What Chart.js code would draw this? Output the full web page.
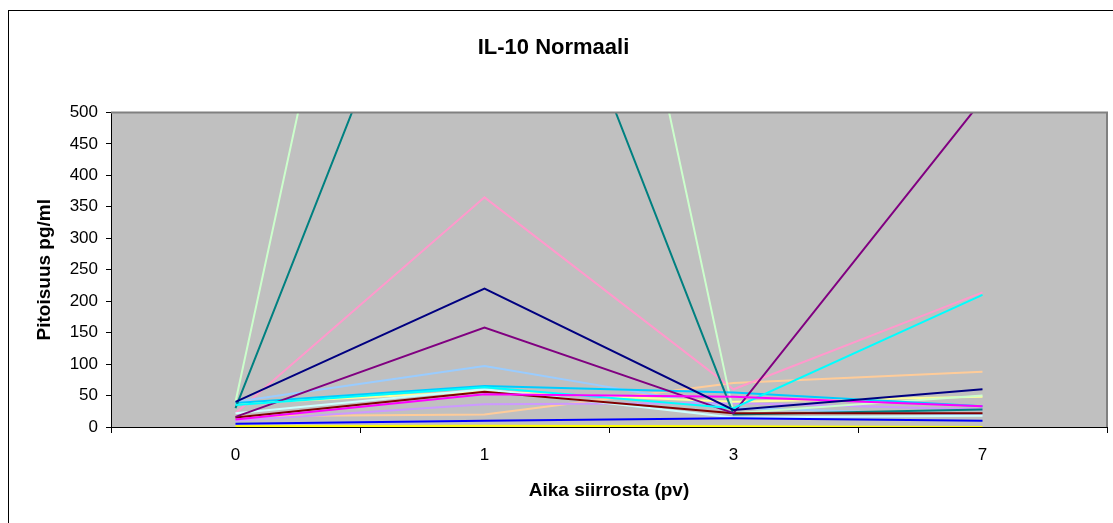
<!DOCTYPE html>
<html>
<head>
<meta charset="utf-8">
<script src="https://cdn.jsdelivr.net/npm/chart.js@4/dist/chart.umd.min.js"></script>
<style>
  html, body { margin: 0; padding: 0; background: #fff; }
  #wrap { width: 1113px; height: 523px; }
</style>
</head>
<body>
<div id="wrap"><canvas id="il10Chart" width="1113" height="523"></canvas></div>
<script>
// days after transplant
const days = ["0", "1", "3", "7"];

// IL-10 concentration per sample (pg/ml)
const s1 = [40, 220, 27, 60];
const s2 = [12, 52, 48, 33];
const s3 = [1, 2, 1, 0];
const s4 = [35, 63, 30, 210];
const s5 = [16, 158, 22, 520];
const s6 = [15, 56, 22, 22];
const s7 = [30, 1035, 20, 28];
const s8 = [5, 10, 14, 10];
const s9 = [38, 65, 55, 33];
const s10 = [22, 60, 15, 18];
const s11 = [40, 1870, 22, 50];
const s12 = [37, 57, 40, 48];
const s13 = [40, 97, 30, 19];
const s14 = [22, 365, 60, 214];
const s15 = [10, 36, 38, 28];
const s16 = [17, 20, 70, 88];

const yTicks = [0, 50, 100, 150, 200, 250, 300, 350, 400, 450, 500];

const seriesList = [s1, s2, s3, s4, s5, s6, s7, s8, s9, s10, s11, s12, s13, s14, s15, s16];
const lineColors = [
  "#000080", "#FF00FF", "#FFFF00", "#00FFFF",
  "#800080", "#800000", "#008080", "#0000FF",
  "#00CCFF", "#CCFFFF", "#CCFFCC", "#FFFF99",
  "#99CCFF", "#FF99CC", "#CC99FF", "#FFCC99",
];

const fontFamily = "Liberation Sans, Arial, sans-serif";

// grey plot area plus the outer frame
const plotBackground = {
  id: "plotBackground",
  beforeDraw(chart) {
    const { ctx, chartArea } = chart;
    ctx.save();
    ctx.fillStyle = "#fff";
    ctx.fillRect(0, 0, chart.width, chart.height);
    ctx.strokeStyle = "#000";
    ctx.lineWidth = 1;
    ctx.strokeRect(8.5, 10.5, 1300, 700);
    ctx.fillStyle = "#C0C0C0";
    ctx.fillRect(chartArea.left, chartArea.top, chartArea.right - chartArea.left, chartArea.bottom - chartArea.top);
    ctx.restore();
  },
  afterDatasetsDraw(chart) {
    const { ctx, chartArea } = chart;
    ctx.save();
    ctx.strokeStyle = "#808080";
    ctx.lineWidth = 2;
    ctx.beginPath();
    ctx.moveTo(chartArea.left, chartArea.top);
    ctx.lineTo(chartArea.right, chartArea.top);
    ctx.lineTo(chartArea.right, chartArea.bottom);
    ctx.stroke();
    ctx.restore();
  },
};

const ctx = document.getElementById("il10Chart").getContext("2d");

const il10Chart = new Chart(ctx, {
  type: "line",
  data: {
    labels: days,
    datasets: seriesList.map((values, i) => ({
      label: "Näyte " + (i + 1),
      data: values,
      borderColor: lineColors[i],
      backgroundColor: lineColors[i],
      borderWidth: 2,
      pointRadius: 0,
      tension: 0,
      fill: false,
    })),
  },
  options: {
    responsive: false,
    animation: false,
    layout: { padding: { left: 0, right: 6, top: 0, bottom: 0 } },
    plugins: {
      legend: { display: false },
      tooltip: { enabled: false },
      title: {
        display: true,
        text: "IL-10 Normaali",
        color: "#000",
        font: { family: fontFamily, size: 22, weight: "bold" },
        padding: { top: 35, bottom: 51 },
      },
    },
    scales: {
      x: {
        type: "category",
        offset: true,
        afterFit(scale) { scale.height = 96; },
        border: { display: true, color: "#000", width: 1 },
        grid: { offset: true, drawOnChartArea: false, drawTicks: true, tickLength: 6, color: "#000" },
        ticks: {
          color: "#000",
          padding: 12,
          font: { family: fontFamily, size: 17 },
        },
        title: {
          display: true,
          text: "Aika siirrosta (pv)",
          color: "#000",
          font: { family: fontFamily, size: 19, weight: "bold" },
          padding: { top: 0, bottom: 21 },
        },
      },
      y: {
        min: 0,
        max: 500,
        afterFit(scale) { scale.width = 111; },
        afterBuildTicks(scale) { scale.ticks = yTicks.map((v) => ({ value: v })); },
        border: { display: true, color: "#000", width: 1 },
        grid: { drawOnChartArea: false, drawTicks: true, tickLength: 5, color: "#000" },
        ticks: {
          color: "#000",
          padding: 8,
          font: { family: fontFamily, size: 17 },
        },
        title: {
          display: true,
          text: "Pitoisuus pg/ml",
          color: "#000",
          font: { family: fontFamily, size: 19, weight: "bold" },
          padding: { top: 33, bottom: 0 },
        },
      },
    },
  },
  plugins: [plotBackground],
});
</script>
</body>
</html>
